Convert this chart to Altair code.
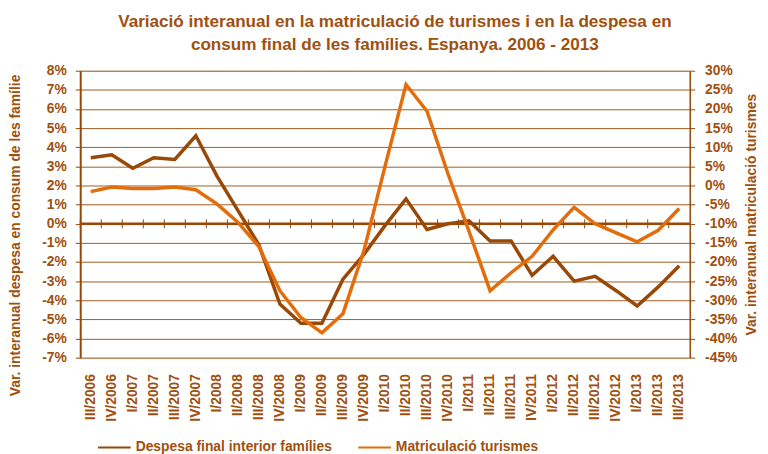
import altair as alt
import pandas as pd

cats = ["III/2006", "IV/2006", "I/2007", "II/2007", "III/2007", "IV/2007",
        "I/2008", "II/2008", "III/2008", "IV/2008", "I/2009", "II/2009",
        "III/2009", "IV/2009", "I/2010", "II/2010", "III/2010", "IV/2010",
        "I/2011", "II/2011", "III/2011", "IV/2011", "I/2012", "II/2012",
        "III/2012", "IV/2012", "I/2013", "II/2013", "III/2013"]

despesa = [3.45, 3.6, 2.9, 3.45, 3.36, 4.6, 2.5, 0.7, -1.1, -4.2, -5.2, -5.2,
           -2.9, -1.6, -0.1, 1.3, -0.3, 0.0, 0.15, -0.9, -0.9, -2.7, -1.7,
           -3.0, -2.75, -3.5, -4.3, -3.3, -2.2]

matric = [-1.6, -0.4, -0.8, -0.8, -0.4, -1.1, -4.8, -9.6, -16.0, -27.5, -34.5,
          -38.5, -33.5, -17.0, 5.0, 26.4, 19.4, 3.0, -12.0, -27.5, -22.8,
          -18.5, -11.6, -5.7, -10.0, -12.4, -14.7, -11.7, -6.0]

series_names = ["Despesa final interior famílies", "Matriculació turismes"]
left_ticks = list(range(-7, 9))
right_ticks = list(range(-45, 31, 5))

title_lines = ["Variació interanual en la matriculació de turismes i en la despesa en",
               "consum final de les famílies. Espanya. 2006 - 2013"]
left_title = "Var. interanual despesa en consum de les famílie"
right_title = "Var. interanual matriculació turismes"

BROWN = "#984807"
ORANGE = "#E46C0A"
TEXT = "#A0500F"
FONT = "Liberation Sans"

df_d = pd.DataFrame({"cat": cats, "value": despesa, "series": series_names[0]})
df_m = pd.DataFrame({"cat": cats, "value": matric, "series": series_names[1]})
df_zero = pd.DataFrame({"v": [0]})
df_ticks = pd.DataFrame({"cat": cats, "v": 0})

xscale = alt.Scale(domain=cats, paddingInner=0, paddingOuter=0)
color = alt.Color("series:N",
                  scale=alt.Scale(domain=series_names, range=[BROWN, ORANGE]),
                  legend=alt.Legend(orient="none", legendX=17, legendY=363,
                                    direction="horizontal", title=None,
                                    symbolType="stroke", symbolSize=1089,
                                    symbolStrokeWidth=2, labelFontSize=14,
                                    labelFontWeight="bold", labelColor=TEXT,
                                    labelFont=FONT, columnPadding=22,
                                    labelOffset=4, padding=0, labelLimit=400))

yl_scale = alt.Scale(domain=[-7, 8], nice=False, zero=False)
yr_scale = alt.Scale(domain=[-45, 30], nice=False, zero=False)

xaxis = alt.Axis(title=None, labelAngle=270, ticks=False, domain=False,
                 labelPadding=16, labelFontSize=14, labelFontWeight="bold",
                 labelColor=TEXT, labelFont=FONT, grid=False,
                 labelOverlap=False)

left_axis = alt.Axis(title=left_title, values=left_ticks,
                     labelExpr="datum.value + '%'", grid=True,
                     gridColor=BROWN, gridWidth=1, gridOpacity=0.9,
                     domainColor=BROWN, domainWidth=2, tickColor=BROWN,
                     tickSize=5, labelPadding=9, labelFontSize=14,
                     labelFontWeight="bold", labelColor=TEXT,
                     labelFont=FONT, titleFont=FONT, titleFontSize=14,
                     titleFontWeight="bold", titleColor=TEXT,
                     titlePadding=19, titleY=166, labelOverlap=False)

left_line = alt.Chart(df_d).mark_line(strokeWidth=3.5).encode(
    x=alt.X("cat:N", sort=cats, scale=xscale, axis=xaxis),
    y=alt.Y("value:Q", scale=yl_scale, axis=left_axis),
    color=color,
)

zero_rule = alt.Chart(df_zero).mark_rule(color=BROWN, strokeWidth=2.5).encode(
    y=alt.Y("v:Q", scale=yl_scale, axis=left_axis)
)

zero_ticks = alt.Chart(df_ticks).mark_tick(
    orient="vertical", size=9, thickness=1, color=BROWN, opacity=1
).encode(
    x=alt.X("cat:N", sort=cats, scale=xscale, bandPosition=0, axis=xaxis),
    y=alt.Y("v:Q", scale=yl_scale, axis=left_axis),
)

left_layer = alt.layer(zero_rule, zero_ticks, left_line)

right_line = alt.Chart(df_m).mark_line(strokeWidth=3.5).encode(
    x=alt.X("cat:N", sort=cats, scale=xscale, axis=xaxis),
    y=alt.Y("value:Q", scale=yr_scale,
            axis=alt.Axis(orient="right", title=right_title, values=right_ticks,
                          labelExpr="datum.value + '%'", grid=False,
                          domainColor=BROWN, domainWidth=1.5, tickColor=BROWN,
                          tickSize=5, labelPadding=10, labelFontSize=14,
                          labelFontWeight="bold", labelColor=TEXT,
                          labelFont=FONT, titleFont=FONT, titleFontSize=14,
                          titleFontWeight="bold", titleColor=TEXT,
                          titleAngle=270, titlePadding=22,
                          labelOverlap=False)),
    color=color,
)

chart = alt.layer(left_layer, right_line).resolve_scale(
    y="independent"
).properties(
    width=616, height=290,
    padding={"left": 73, "top": 61, "right": 71, "bottom": 96},
    autosize=alt.AutoSizeParams(type="none"),
    title=alt.TitleParams(text=title_lines, fontSize=17.3, fontWeight="bold",
                          color=TEXT, font=FONT, anchor="middle",
                          frame="group", offset=14, lineHeight=23, dx=10,
                          dy=3),
).configure_view(stroke=None).configure(font=FONT, background="white")

chart.save("out.html", embed_options={"renderer": "svg", "actions": False})
